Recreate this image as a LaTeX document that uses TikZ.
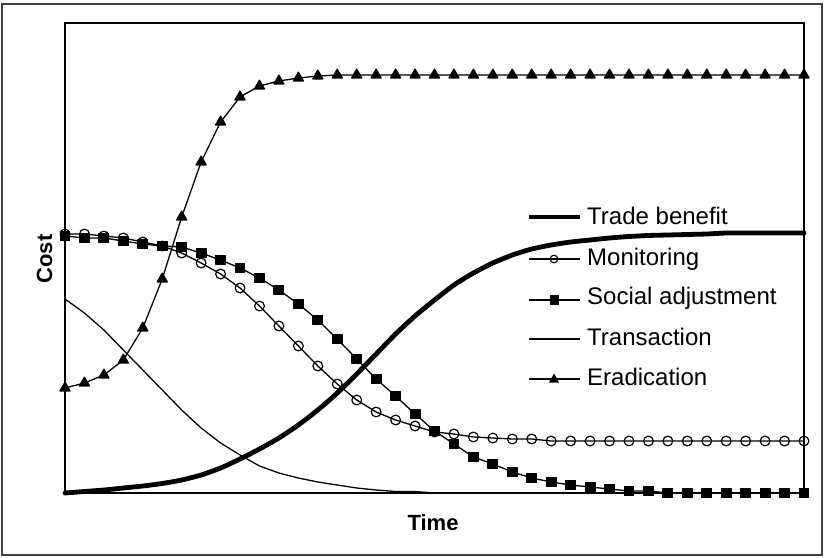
\documentclass[tikz,border=0pt]{standalone}
\usepackage{fontspec}
\setmainfont{Liberation Sans}
\usetikzlibrary{plotmarks}
\begin{document}
\begin{tikzpicture}[x=1bp,y=-1bp,
  frame/.style={line width=1.5bp, draw=black},
  outer/.style={line width=1.4bp, draw=black!75},
  series/.style={line width=1.3bp, line join=round},
  thinline/.style={line width=1.3bp, line join=round},
  heavy/.style={line width=4.8bp, line join=round, line cap=round},
  circmark/.style={mark=o, mark size=4.9bp, mark options={line width=1.2bp, solid}},
  sqmark/.style={mark=square*, mark size=4.8bp},
  trimark/.style={mark=triangle*, mark size=5.8bp},
  legtext/.style={font=\fontsize{24bp}{28bp}\selectfont, inner sep=0pt, anchor=base west},
  axlab/.style={font=\fontsize{22bp}{26bp}\selectfont\bfseries, inner sep=0pt, anchor=base}]
\useasboundingbox (0,0) rectangle (824,558);
\fill[white] (0,0) rectangle (824,558);
\draw[outer] (2,4) rectangle (822,555);
\draw[frame] (65,23) rectangle (804,493);
\begin{scope}[x=19.447bp, xshift=65bp]
% Trade benefit
\draw[heavy] plot[smooth, tension=0.4] coordinates {(0,493)(1,491.5)(2,490)(3,488)(4,486)(5,483.5)(6,480)(7,475)(8,468)(9,459)(10,449)(11,438)(12,425)(13,410)(14,393)(15,374)(16,354)(17,334)(18,316)(19,300)(20,285)(21,273)(22,263)(23,255)(24,249)(25,245)(26,242)(27,240)(28,238)(29,236.5)(30,235.5)(31,235)(32,234.5)(33,234)(34,233)(35,233)(36,233)(37,233)(38,233)};
% Monitoring
\draw[series, circmark] plot coordinates {(0,234)(1,234)(2,236)(3,238)(4,242)(5,246)(6,253)(7,263)(8,274)(9,288)(10,306)(11,326)(12,346)(13,366)(14,384)(15,400)(16,412)(17,420)(18,426)(19,432)(20,434)(21,437)(22,438)(23,439)(24,439)(25,441)(26,441)(27,441)(28,441)(29,441)(30,441)(31,441)(32,441)(33,441)(34,441)(35,441)(36,441)(37,441)(38,441)};
% Social adjustment
\draw[series, sqmark] plot coordinates {(0,236)(1,238)(2,238)(3,241)(4,244)(5,246)(6,247)(7,253)(8,260)(9,268)(10,278)(11,290)(12,304)(13,320)(14,339)(15,359)(16,379)(17,396)(18,414)(19,431)(20,444)(21,457)(22,464)(23,472)(24,478)(25,482)(26,485)(27,487)(28,489)(29,491)(30,491)(31,493)(32,493)(33,493)(34,493)(35,493)(36,493)(37,493)(38,493)};
% Transaction
\draw[thinline] plot coordinates {(0,299)(1,313)(2,330)(3,350)(4,370)(5,390)(6,410)(7,428)(8,443)(9,455)(10,466)(11,473)(12,478)(13,482)(14,485)(15,488)(16,490)(17,491.5)(18,491.5)(19,493)(38,493)};
% Eradication
\draw[series, trimark] plot coordinates {(0,388)(1,383)(2,375)(3,360)(4,328)(5,279)(6,217)(7,162)(8,122)(9,97)(10,86)(11,81)(12,78)(13,76)(14,75)(15,75)(16,75)(17,75)(18,75)(19,75)(20,75)(21,75)(22,75)(23,75)(24,75)(25,75)(26,75)(27,75)(28,75)(29,75)(30,75)(31,75)(32,75)(33,75)(34,75)(35,75)(36,75)(37,75)(38,75)};
\end{scope}
% Legend
\draw[heavy, line cap=butt] (529,217) -- (580,217);
\node[legtext] (l1) at (587,225) {Trade benefit};
\draw[series] (529,259) -- (580,259);
\draw[line width=1.1bp] (554,259) circle (3.8bp);
\node[legtext] (l2) at (587,266) {Monitoring};
\draw[series] (529,300) -- (580,300);
\fill (549.5,295.5) rectangle (558.5,304.5);
\node[legtext] (l3) at (587,305) {Social adjustment};
\draw[thinline] (529,339) -- (580,339);
\node[legtext] (l4) at (587,345) {Transaction};
\draw[series] (529,379) -- (580,379);
\fill (554,373.5) -- (559,382.5) -- (549,382.5) -- cycle;
\node[legtext] (l5) at (587,385) {Eradication};
% Axis labels
\node[axlab] (tl) at (433,530) {Time};
\node[axlab, rotate=90] (cl) at (52,259) {Cost};
\end{tikzpicture}
\end{document}
